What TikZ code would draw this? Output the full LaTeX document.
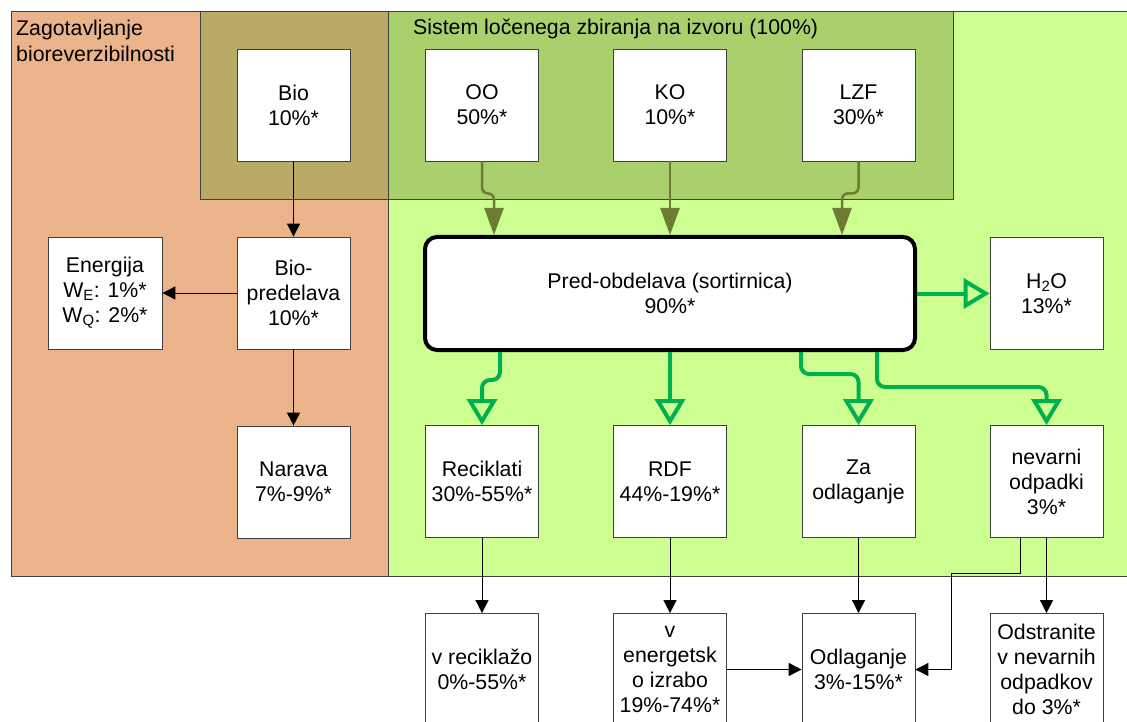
\documentclass[tikz,border=0pt]{standalone}
\usepackage{fontspec}
\setmainfont{Liberation Sans}
\usetikzlibrary{arrows.meta}
\definecolor{peach}{HTML}{EBB38A}
\definecolor{lime}{HTML}{CCFF8F}
\definecolor{bioolive}{HTML}{B9AB66}
\definecolor{moss}{HTML}{AAD06D}
\definecolor{edge}{HTML}{404040}
\definecolor{feedgreen}{HTML}{6E7B35}
\definecolor{sortgreen}{HTML}{00B050}
\tikzset{
  zone/.style={
    draw=edge,
    line width=0.8pt
  },
  title/.style={
    font=\fontsize{21.3}{25.5}\selectfont,
    align=left,
    inner sep=0pt
  },
  box/.style={
    draw=edge,
    fill=white,
    line width=0.8pt,
    minimum width=113pt,
    minimum height=112pt,
    inner sep=0pt,
    align=center,
    font=\fontsize{21.3}{25}\selectfont
  },
  flow/.style={
    -{Triangle[length=13pt,width=13pt]},
    draw=black,
    line width=0.9pt
  },
  feed/.style={
    -{Triangle[length=27pt,width=19pt]},
    draw=feedgreen,
    line width=2.5pt,
    rounded corners=6pt
  },
  sortflow/.style={
    -{Triangle[open,length=26pt,width=30pt]},
    draw=sortgreen,
    line width=4pt,
    rounded corners=8pt
  }
}

\begin{document}
\begin{tikzpicture}[x=1pt,y=-1pt]
  \useasboundingbox (0,0) rectangle (1127,722);
  \clip (0,0) rectangle (1127,722);

  % Zones
  \fill[white] (0,0) rectangle (1127,722);
  \draw[zone, fill=peach] (11,11) rectangle (388,576);
  \draw[zone, fill=lime] (388,11) rectangle (1140,576);
  \draw[zone, fill=bioolive] (200,11) rectangle (388,199);
  \draw[zone, fill=moss] (388,11) rectangle (953,199);
  \node[title, anchor=north west] (biotitle) at (16,20)
    {Zagotavljanje\\bioreverzibilnosti};
  \node[title, anchor=base west] (systitle) at (413,35)
    {Sistem ločenega zbiranja na izvoru (100\%)};

  % Sources
  \node[box] (bio) at (293.5,105) {Bio\\10\%*};
  \node[box] (oo) at (482,105) {OO\\50\%*};
  \node[box] (ko) at (670,105) {KO\\10\%*};
  \node[box] (lzf) at (858.5,105) {LZF\\30\%*};

  % Bio branch
  \node[box, minimum width=114pt] (ener) at (105,293) {Energija\\W\textsubscript{E}: 1\%*\\W\textsubscript{Q}: 2\%*};
  \node[box] (biop) at (293.5,293) {Bio-\\predelava\\10\%*};
  \node[box] (nar) at (293.5,482) {Narava\\7\%-9\%*};

  % Sorting plant
  \node[box, draw=black, line width=4pt, rounded corners=12pt,
    minimum width=490pt, minimum height=113pt] (pre) at (670,293.5)
    {Pred-obdelava (sortirnica)\\90\%*};
  \node[box] (h2o) at (1046.5,293.5) {H\textsubscript{2}O\\13\%*};

  % Sorted fractions
  \node[box] (rec) at (482,481.5) {Reciklati\\30\%-55\%*};
  \node[box] (rdf) at (670,481.5) {RDF\\44\%-19\%*};
  \node[box] (za) at (858.5,481.5) {Za\\odlaganje};
  \node[box] (nev) at (1046.5,481.5) {nevarni\\odpadki\\3\%*};

  % Final destinations
  \node[box] (vrec) at (482,669.5) {v reciklažo\\0\%-55\%*};
  \node[box] (ven) at (670,669.5) {v\\energetsk\\o izrabo\\19\%-74\%*};
  \node[box] (odl) at (858.5,669.5) {Odlaganje\\3\%-15\%*};
  \node[box] (ods) at (1046.5,669.5) {Odstranite\\v nevarnih\\odpadkov\\do 3\%*};

  % Bio arrows
  \draw[flow] (bio) -- (biop);
  \draw[flow] (biop) -- (ener);
  \draw[flow] (biop) -- (nar);

  % Collection into sorting
  \draw[feed] (oo.south) -- ++(0,32) -| ([xshift=-176pt]pre.north);
  \draw[feed] (ko.south) -- (ko.south |- pre.north);
  \draw[feed] (lzf.south) -- ++(0,32) -| ([xshift=172pt]pre.north);

  % Sorting outputs
  \draw[sortflow] (pre) -- (h2o);
  \draw[sortflow] ([xshift=-170pt]pre.south) -- ++(0,28) -| (rec.north);
  \draw[sortflow] (pre.south) -- (rdf.north);
  \draw[sortflow] ([xshift=131pt]pre.south) -- ++(0,22) -| (za.north);
  \draw[sortflow] ([xshift=207pt]pre.south) -- ++(0,35) -| (nev.north);

  % To destinations
  \draw[flow] (rec) -- (vrec);
  \draw[flow] (rdf) -- (ven);
  \draw[flow] (za) -- (odl);
  \draw[flow] (nev) -- (ods);
  \draw[flow] (ven) -- (odl);
  \coordinate (bend) at (951,573);
  \draw[flow] ([xshift=-26pt]nev.south) |- (bend) |- (odl.east);
\end{tikzpicture}
\end{document}
